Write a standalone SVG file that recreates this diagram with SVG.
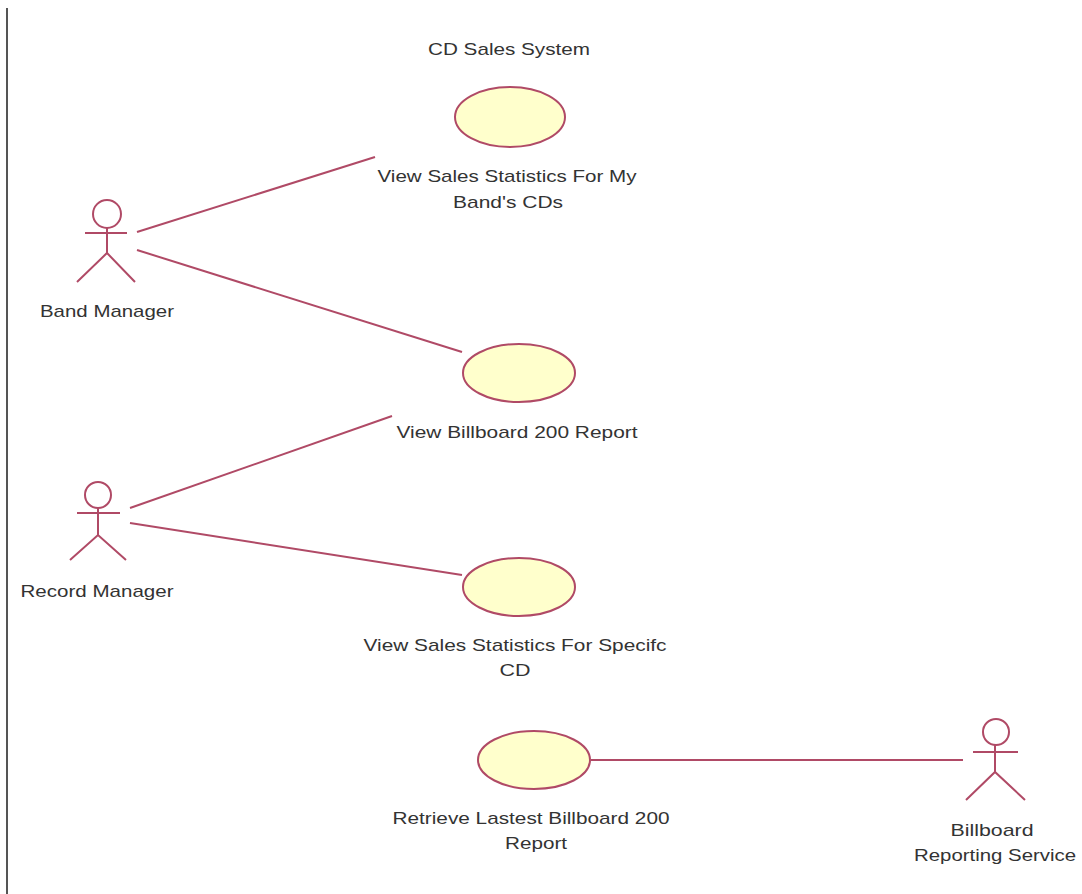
<svg xmlns="http://www.w3.org/2000/svg" width="1082" height="894" viewBox="0 0 1082 894">
<style>
.bg{fill:#ffffff}
.frame{stroke:#555;stroke-width:2;fill:none}
.uc{fill:#ffffcc;stroke:#b04a66;stroke-width:2}
.actor{fill:none;stroke:#b04a66;stroke-width:2}
.conn{stroke:#b04a66;stroke-width:2;fill:none}
text{font-family:"Liberation Sans",Arial,sans-serif;font-size:17px;fill:#333;text-anchor:middle}
</style>
<rect class="bg" x="0" y="0" width="1082" height="894"/>
<line class="frame" x1="7" y1="8" x2="7" y2="894"/>
<text x="509" y="55" textLength="162" lengthAdjust="spacingAndGlyphs">CD Sales System</text>
<g id="connectors">
<line class="conn" x1="137" y1="232" x2="375" y2="157"/>
<line class="conn" x1="137" y1="250" x2="462" y2="352"/>
<line class="conn" x1="130" y1="508" x2="392" y2="416"/>
<line class="conn" x1="130" y1="523" x2="462" y2="575"/>
<line class="conn" x1="591" y1="760" x2="963" y2="760"/>
</g>
<g id="uc-view-band">
<ellipse class="uc" cx="510" cy="117" rx="55" ry="30"/>
<text x="507" y="182" textLength="259" lengthAdjust="spacingAndGlyphs">View Sales Statistics For My</text>
<text x="508" y="208" textLength="110" lengthAdjust="spacingAndGlyphs">Band's CDs</text>
</g>
<g id="uc-view-billboard">
<ellipse class="uc" cx="519" cy="373" rx="56" ry="29"/>
<text x="517" y="438" textLength="241" lengthAdjust="spacingAndGlyphs">View Billboard 200 Report</text>
</g>
<g id="uc-view-specific">
<ellipse class="uc" cx="519" cy="587" rx="56" ry="29"/>
<text x="515" y="651" textLength="303" lengthAdjust="spacingAndGlyphs">View Sales Statistics For Specifc</text>
<text x="515" y="676" textLength="31" lengthAdjust="spacingAndGlyphs">CD</text>
</g>
<g id="uc-retrieve">
<ellipse class="uc" cx="534" cy="760" rx="56" ry="29"/>
<text x="531" y="824" textLength="277" lengthAdjust="spacingAndGlyphs">Retrieve Lastest Billboard 200</text>
<text x="536" y="849" textLength="62" lengthAdjust="spacingAndGlyphs">Report</text>
</g>
<g id="actor-band-manager">
<circle class="actor" cx="107" cy="214" r="14"/>
<line class="actor" x1="85" y1="233" x2="127" y2="233"/>
<line class="actor" x1="107" y1="228" x2="107" y2="253"/>
<polyline class="actor" points="77,282 107,253 135,282"/>
<text x="107" y="317" textLength="134" lengthAdjust="spacingAndGlyphs">Band Manager</text>
</g>
<g id="actor-record-manager">
<circle class="actor" cx="98" cy="495" r="13"/>
<line class="actor" x1="77" y1="513" x2="120" y2="513"/>
<line class="actor" x1="98" y1="508" x2="98" y2="535"/>
<polyline class="actor" points="70,560 98,535 126,560"/>
<text x="97" y="597" textLength="153" lengthAdjust="spacingAndGlyphs">Record Manager</text>
</g>
<g id="actor-billboard">
<circle class="actor" cx="996" cy="732" r="13"/>
<line class="actor" x1="973" y1="752" x2="1018" y2="752"/>
<line class="actor" x1="995" y1="745" x2="995" y2="772"/>
<polyline class="actor" points="966,800 995,772 1025,800"/>
<text x="992" y="836" textLength="83" lengthAdjust="spacingAndGlyphs">Billboard</text>
<text x="995" y="861" textLength="162" lengthAdjust="spacingAndGlyphs">Reporting Service</text>
</g>
</svg>
